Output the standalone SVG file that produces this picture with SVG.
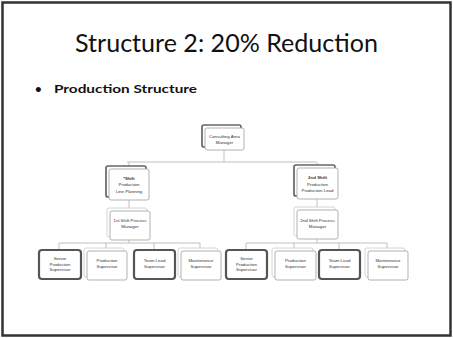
<svg xmlns="http://www.w3.org/2000/svg" width="453" height="338" viewBox="0 0 453 338">
  <style>
    .title { font-family: Lato, "Open Sans", "Liberation Sans", sans-serif; font-size: 25px; fill: #111; }
    .bullet { font-family: Lato, "Open Sans", "Liberation Sans", sans-serif; font-size: 11.5px; font-weight: bold; fill: #111; }
    .lbl { font-family: "Liberation Sans", Arial, sans-serif; font-size: 4.4px; fill: #333; text-anchor: middle; }
    .back { fill: #fff; stroke: #666; stroke-width: 1.7; }
    .front { fill: #fff; stroke: #a8a8a8; stroke-width: 0.9; }
    .faint { fill: #fff; stroke: #d0d0d0; stroke-width: 0.9; }
    .bold { fill: #fff; stroke: #555; stroke-width: 2.2; }
    .conn { fill: none; stroke: #b8b8b8; stroke-width: 0.9; }
  </style>

  <!-- slide frame -->
  <rect x="0" y="0" width="453" height="338" fill="#fff"/>
  <rect x="2.5" y="2.5" width="448" height="333" fill="none" stroke="#333" stroke-width="2.5"/>

  <text class="title" x="226.5" y="52" text-anchor="middle" textLength="303" lengthAdjust="spacingAndGlyphs">Structure 2: 20% Reduction</text>
  <text class="bullet" x="35" y="93">•</text>
  <text class="bullet" x="54" y="93" textLength="143" lengthAdjust="spacingAndGlyphs">Production Structure</text>

  <!-- connectors -->
  <g id="connectors">
    <path class="conn" d="M224 150 V162 M127 162 H316 M129 162 V169 M317 162 V168"/>
    <path class="conn" d="M129 200 V210 M317 199 V209"/>
    <path class="conn" d="M129 239 V243 M59 243 H200 M59 243 V249 M106 243 V249 M154 243 V249 M200 243 V249"/>
    <path class="conn" d="M317 239 V243 M246 243 H387 M246 243 V249 M294 243 V249 M339 243 V249 M387 243 V249"/>
  </g>

  <!-- level 1 -->
  <g id="operations-manager">
    <rect class="back" x="202" y="125" width="39" height="22" rx="2"/>
    <rect class="front" x="205" y="128" width="39" height="22" rx="2"/>
    <text class="lbl" x="224.5" y="138">Consulting Area</text>
    <text class="lbl" x="224.5" y="143.5">Manager</text>
  </g>

  <!-- level 2 -->
  <g id="shift-supervisor-left">
    <rect class="back" x="106" y="166" width="40" height="31" rx="2"/>
    <rect class="front" x="109" y="169" width="40" height="31" rx="2"/>
    <text class="lbl" x="129" y="180" font-weight="bold">*Shift</text>
    <text class="lbl" x="129" y="186">Production</text>
    <text class="lbl" x="129" y="192.5">Line Planning</text>
  </g>
  <g id="shift-supervisor-right">
    <rect class="back" x="294" y="165" width="41" height="31" rx="2"/>
    <rect class="front" x="297" y="168" width="41" height="31" rx="2"/>
    <text class="lbl" x="317.5" y="179" font-weight="bold">2nd Shift</text>
    <text class="lbl" x="317.5" y="185.5">Production</text>
    <text class="lbl" x="317.5" y="192">Production Lead</text>
  </g>

  <!-- level 3 -->
  <g id="process-manager-left">
    <rect class="faint" x="107" y="208" width="40" height="29" rx="2"/>
    <rect class="front" x="110" y="211" width="40" height="29" rx="2"/>
    <text class="lbl" x="130" y="222">1st Shift Process</text>
    <text class="lbl" x="130" y="228">Manager</text>
  </g>
  <g id="process-manager-right">
    <rect class="faint" x="294" y="207" width="41" height="29" rx="2"/>
    <rect class="front" x="297" y="210" width="41" height="29" rx="2"/>
    <text class="lbl" x="317.5" y="222">2nd Shift Process</text>
    <text class="lbl" x="317.5" y="228">Manager</text>
  </g>

  <!-- level 4, left -->
  <g id="senior-supervisor-left">
    <rect class="bold" x="39" y="250" width="42" height="29" rx="3"/>
    <text class="lbl" x="60" y="260">Senior</text>
    <text class="lbl" x="60" y="265.5">Production</text>
    <text class="lbl" x="60" y="271">Supervisor</text>
  </g>
  <g id="supervisor-a-left">
    <rect class="faint" x="84" y="248" width="40" height="29" rx="2"/>
    <rect class="front" x="87" y="251" width="40" height="29" rx="2"/>
    <text class="lbl" x="107" y="262">Production</text>
    <text class="lbl" x="107" y="268">Supervisor</text>
  </g>
  <g id="team-lead-left">
    <rect class="bold" x="134" y="250" width="41" height="29" rx="3"/>
    <text class="lbl" x="154.5" y="262">Team Lead</text>
    <text class="lbl" x="154.5" y="268">Supervisor</text>
  </g>
  <g id="supervisor-b-left">
    <rect class="faint" x="178" y="248" width="40" height="29" rx="2"/>
    <rect class="front" x="181" y="251" width="40" height="29" rx="2"/>
    <text class="lbl" x="201" y="262">Maintenance</text>
    <text class="lbl" x="201" y="268">Supervisor</text>
  </g>

  <!-- level 4, right -->
  <g id="senior-supervisor-right">
    <rect class="bold" x="226" y="250" width="41" height="29" rx="3"/>
    <text class="lbl" x="246.5" y="260">Senior</text>
    <text class="lbl" x="246.5" y="265.5">Production</text>
    <text class="lbl" x="246.5" y="271">Supervisor</text>
  </g>
  <g id="supervisor-a-right">
    <rect class="faint" x="272" y="248" width="41" height="29" rx="2"/>
    <rect class="front" x="275" y="251" width="41" height="29" rx="2"/>
    <text class="lbl" x="295.5" y="262">Production</text>
    <text class="lbl" x="295.5" y="268">Supervisor</text>
  </g>
  <g id="team-lead-right">
    <rect class="bold" x="319" y="250" width="41" height="29" rx="3"/>
    <text class="lbl" x="339.5" y="262">Team Lead</text>
    <text class="lbl" x="339.5" y="268">Supervisor</text>
  </g>
  <g id="supervisor-b-right">
    <rect class="faint" x="365" y="248" width="40" height="29" rx="2"/>
    <rect class="front" x="368" y="251" width="40" height="29" rx="2"/>
    <text class="lbl" x="388" y="262">Maintenance</text>
    <text class="lbl" x="388" y="268">Supervisor</text>
  </g>
</svg>
